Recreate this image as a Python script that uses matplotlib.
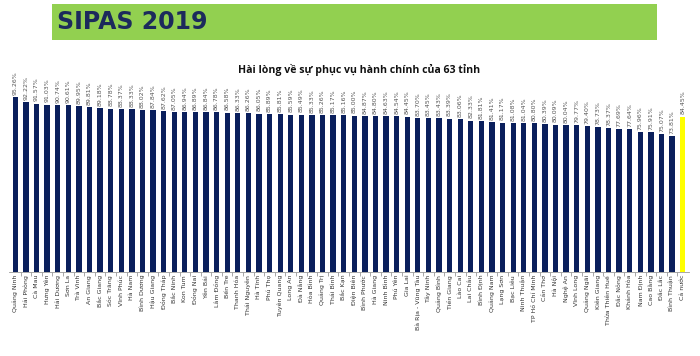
import matplotlib.pyplot as plt
import numpy as np
from matplotlib.patches import Rectangle

provinces = [
    "Quảng Ninh", "Hải Phòng", "Cà Mau", "Hưng Yên", "Hải Dương", "Sơn La",
    "Trà Vinh", "An Giang", "Bắc Giang", "Sóc Trăng", "Vĩnh Phúc", "Hà Nam",
    "Bình Dương", "Hậu Giang", "Đồng Tháp", "Bắc Ninh", "Kon Tum", "Đồng Nai",
    "Yên Bái", "Lâm Đồng", "Bến Tre", "Thanh Hóa", "Thái Nguyên", "Hà Tĩnh",
    "Phú Thọ", "Tuyên Quang", "Long An", "Đà Nẵng", "Hòa Bình", "Quảng Trị",
    "Thái Bình", "Bắc Kạn", "Điện Biên", "Bình Phước", "Hà Giang", "Ninh Bình",
    "Phú Yên", "Gia Lai", "Bà Rịa - Vũng Tàu", "Tây Ninh", "Quảng Bình",
    "Tiền Giang", "Lào Cai", "Lai Châu", "Bình Định", "Quảng Nam", "Lạng Sơn",
    "Bạc Liêu", "Ninh Thuận", "TP Hồ Chí Minh", "Cần Thơ", "Hà Nội", "Nghệ An",
    "Vĩnh Long", "Quảng Ngãi", "Kiên Giang", "Thừa Thiên Huế", "Đắc Nông",
    "Khánh Hòa", "Nam Định", "Cao Bằng", "Đắc Lắc", "Bình Thuận", "Cả nước",
]
satisfaction = [
    95.26, 92.22, 91.57, 91.03, 90.74, 90.61, 89.95, 89.81, 89.18, 88.78,
    88.37, 88.33, 88.02, 87.84, 87.62, 87.05, 86.94, 86.89, 86.84, 86.78,
    86.58, 86.33, 86.26, 86.05, 85.89, 85.81, 85.59, 85.49, 85.33, 85.26,
    85.17, 85.16, 85.00, 84.87, 84.80, 84.63, 84.54, 84.45, 83.70, 83.45,
    83.43, 83.39, 83.06, 82.33, 81.81, 81.41, 81.17, 81.08, 81.04, 80.80,
    80.39, 80.09, 80.04, 79.77, 79.40, 78.73, 78.37, 77.69, 77.64, 75.96,
    75.91, 75.07, 73.81, 84.45,
]

W, H = 700, 356
fig = plt.figure(figsize=(W / 100, H / 100), dpi=100)
fig.patch.set_facecolor("white")

# green header banner
fig.patches.append(Rectangle((52 / W, 1 - 40 / H), (657 - 52) / W, 36 / H,
                             transform=fig.transFigure, facecolor="#92d050",
                             edgecolor="none"))
fig.text(57 / W, 1 - 22 / H, "SIPAS 2019", fontsize=17, fontweight="bold",
         color="#1c2a5c", va="center", ha="left", family="DejaVu Sans")
fig.text(359 / W, 1 - 70 / H, "Hài lòng về sự phục vụ hành chính của 63 tỉnh",
         fontsize=7.6, fontweight="bold", ha="center", va="center",
         color="#111111", family="Open Sans")

ax = fig.add_axes([9 / W, 84 / H, 680 / W, 184 / H])
x = np.arange(len(provinces))
colors = ["#0a1f5c"] * (len(provinces) - 1) + ["#ffff00"]
ax.bar(x, satisfaction, width=0.5, color=colors)

for xi, v in zip(x, satisfaction):
    ax.text(xi, v + 1.2, f"{v:.2f}%", rotation=90, ha="center", va="bottom",
            fontsize=4.5, color="#555555")

ax.set_xlim(-0.6, len(provinces) - 0.4)
ax.set_ylim(0, 100)
ax.set_yticks([])
ax.set_xticks(x)
ax.set_xticklabels(provinces, rotation=90, fontsize=4.5, color="#333333")
ax.tick_params(axis="x", length=0, pad=2)
ax.set_xticks(x[:-1] + 0.5, minor=True)
ax.tick_params(axis="x", which="minor", length=3, color="#999999")
for s in ["top", "right", "left"]:
    ax.spines[s].set_visible(False)
ax.spines["bottom"].set_color("#999999")
ax.spines["bottom"].set_linewidth(0.6)

fig.savefig("out.png", dpi=100)
